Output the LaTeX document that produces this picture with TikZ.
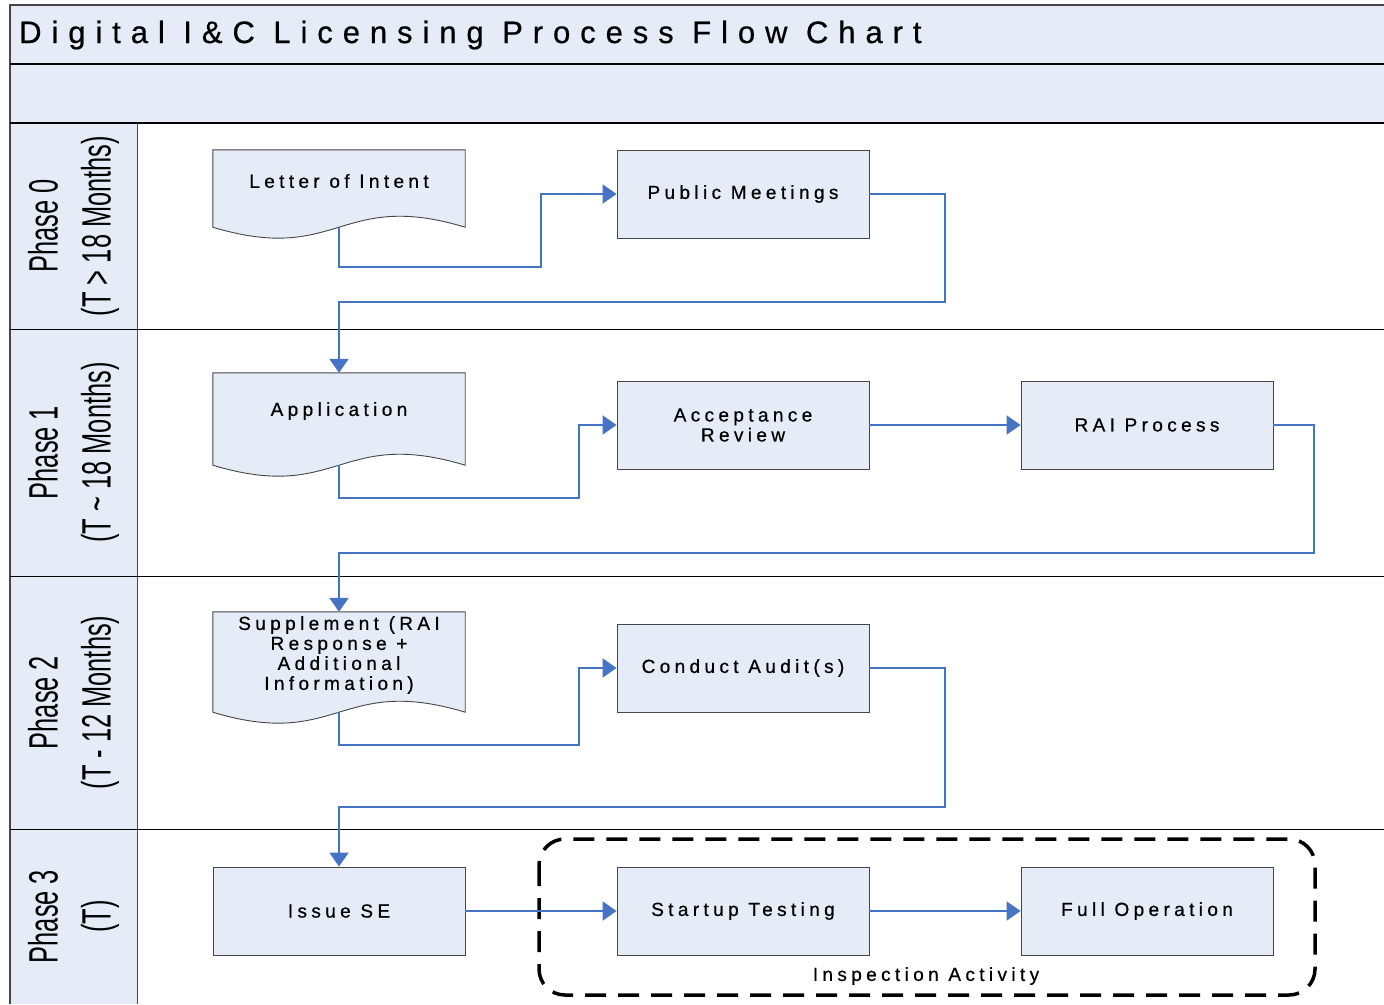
\documentclass[tikz,border=0pt]{standalone}
\usepackage{fontspec}
\setmainfont{Liberation Sans}
\newfontfamily\boxfont[LetterSpace=23,FakeBold=0.6]{Liberation Sans}
\newfontfamily\titlefont[LetterSpace=32,FakeBold=0.6]{Liberation Sans}
\usetikzlibrary{arrows.meta,calc}
\definecolor{lanefill}{RGB}{230,236,247}
\definecolor{connblue}{RGB}{70,116,196}
\definecolor{edgegray}{RGB}{70,70,70}
\tikzset{
  procbox/.style={draw=edgegray,line width=0.9pt,fill=lanefill,minimum width=252pt,minimum height=88pt,inner sep=0pt,align=center,font=\boxfont\fontsize{19}{20}\selectfont},
  docbox/.style={draw=none,minimum width=252pt,inner sep=0pt},
  docdraw/.style={draw=edgegray,line width=0.9pt,fill=lanefill},
  doctext/.style={align=center,inner sep=0pt,font=\boxfont\fontsize{19}{20}\selectfont},
  conn/.style={draw=connblue,line width=2.2pt,-{Triangle[width=19pt,length=14pt]}},
  phaselbl/.style={rotate=90,align=center,inner sep=0pt,font=\fontsize{41}{53}\selectfont},
  lanesep/.style={draw=black,line width=1pt},
}
\newcommand{\narrow}[1]{\scalebox{0.62}[1]{#1}}
\begin{document}
\begin{tikzpicture}[x=1pt,y=-1pt]
\useasboundingbox (0,0) rectangle (1384,1004);
\clip (0,0) rectangle (1384,1004);
% background bands
\fill[lanefill] (10,5) rectangle (1384,123);
\fill[lanefill] (10,123) rectangle (137,1004);
\draw[edgegray,line width=2pt] (1384,5) -- (10,5) -- (10,1004);
\draw[black,line width=2pt] (10,64) -- (1384,64);
\draw[black,line width=1.5pt] (10,123) -- (1384,123);
\draw[edgegray,line width=1pt] (137,123) -- (137,1004);
\draw[lanesep] (10,329) -- (1384,329);
\draw[lanesep] (10,576) -- (1384,576);
\draw[lanesep] (10,829) -- (1384,829);
\node[anchor=west,inner sep=0pt,font=\titlefont\fontsize{31}{33}\selectfont] (title) at (19,35) {Digital I\&C Licensing Process Flow Chart};
% phase labels
\node[phaselbl] (ph0) at (73.5,226) {\narrow{Phase 0}\\\narrow{(T > 18 Months)}};
\node[phaselbl] (ph1) at (73.5,452.5) {\narrow{Phase 1}\\\narrow{(T \textasciitilde\ 18 Months)}};
\node[phaselbl] (ph2) at (73.5,702.5) {\narrow{Phase 2}\\\narrow{(T - 12 Months)}};
\node[phaselbl] (ph3) at (73.5,916.5) {\narrow{Phase 3}\\\narrow{(T)}};
% inspection region
\draw[black,line width=3.5pt,dash pattern=on 21pt off 12pt,rounded corners=26pt] (539,839) rectangle (1315,995);
\node[inner sep=0pt,font=\boxfont\fontsize{19}{20}\selectfont] (insp) at (926,976) {Inspection Activity};
% document shapes
\node[docbox,minimum height=77pt] (loi) at (339,188.5) {};
\node[docbox,minimum height=92pt] (app) at (339,419) {};
\node[docbox,minimum height=100pt] (sup) at (339,662) {};
\foreach \d in {loi,app,sup}{
  \draw[docdraw] (\d.south west) -- (\d.north west) -- (\d.north east) -- (\d.south east)
    .. controls ($(\d.south)+(0,-38)$) and ($(\d.south)+(0,38)$) .. (\d.south west) -- cycle;
}
\node[doctext] (loit) at (339,181) {Letter of Intent};
\node[doctext] (appt) at (339,411) {Application};
\node[doctext] (supt) at (339,655) {Supplement (RAI\\Response +\\Additional\\Information)};
% process boxes
\node[procbox] (pm) at (743,194) {Public Meetings};
\node[procbox] (ar) at (743,425) {Acceptance\\Review};
\node[procbox] (rai) at (1147,425) {RAI Process};
\node[procbox] (ca) at (743,668) {Conduct Audit(s)};
\node[procbox] (ise) at (339,911) {Issue SE};
\node[procbox] (st) at (743,911) {Startup Testing};
\node[procbox] (fo) at (1147,911) {Full Operation};
% connectors
\draw[conn] (loi.south) -- (339,267) -- (541,267) |- (pm.west);
\draw[conn] (pm.east) -| (945,302) -| (app.north);
\draw[conn] (app.south) -- (339,498) -- (579,498) |- (ar.west);
\draw[conn] (ar.east) -- (rai.west);
\draw[conn] (rai.east) -| (1314,553) -| (sup.north);
\draw[conn] (sup.south) -- (339,745) -- (579,745) |- (ca.west);
\draw[conn] (ca.east) -| (945,807) -| (ise.north);
\draw[conn] (ise.east) -- (st.west);
\draw[conn] (st.east) -- (fo.west);
\end{tikzpicture}
\end{document}
